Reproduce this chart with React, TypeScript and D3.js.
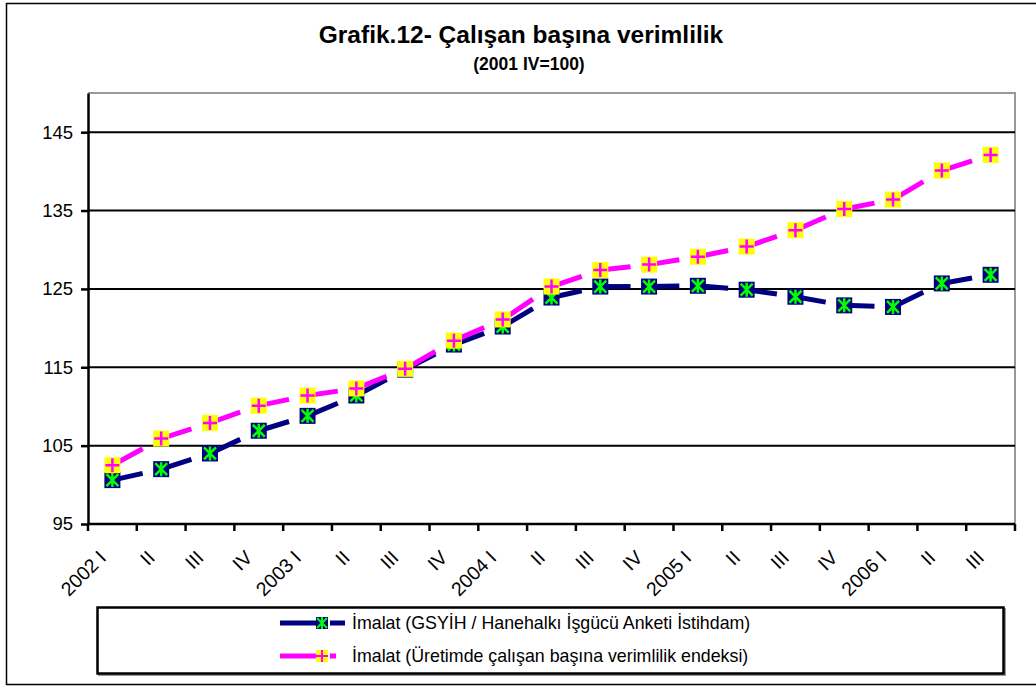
// @ts-nocheck
import React, { useEffect, useRef } from "react";
import * as d3 from "d3";

const quarters = [
  "2002 I", "II", "III", "IV",
  "2003 I", "II", "III", "IV",
  "2004 I", "II", "III", "IV",
  "2005 I", "II", "III", "IV",
  "2006 I", "II", "III",
];

const gsyih = [
  100.6, 102.0, 104.0, 106.9, 108.8, 111.4, 114.7, 117.9, 120.2, 123.9,
  125.3, 125.3, 125.4, 124.9, 124.0, 122.9, 122.7, 125.7, 126.8,
];

const uretim = [
  102.5, 105.9, 107.9, 110.1, 111.4, 112.3, 114.8, 118.4, 121.1, 125.3,
  127.4, 128.1, 129.1, 130.4, 132.5, 135.2, 136.4, 140.1, 142.1,
];

const yTicks = [95, 105, 115, 125, 135, 145];

const seriesNames = [
  "İmalat (GSYİH / Hanehalkı İşgücü Anketi İstihdam)",
  "İmalat (Üretimde çalışan başına verimlilik endeksi)",
];

const FONT = "'Liberation Sans', Arial, sans-serif";

const App = () => {
  const svgRef = useRef();

  useEffect(() => {
    document.body.style.margin = "0";
    const W = 1036;
    const H = 686;
    const margin = { top: 93, right: 21, bottom: 162, left: 88 };
    const width = W - margin.left - margin.right;
    const height = H - margin.top - margin.bottom;

    const root = d3.select(svgRef.current);
    root.selectAll("*").remove();
    root.attr("width", W).attr("height", H).style("display", "block");

    // outer frame
    root
      .append("rect")
      .attr("x", 6.5)
      .attr("y", 3.5)
      .attr("width", W + 10)
      .attr("height", 681)
      .attr("fill", "white")
      .attr("stroke", "black")
      .attr("stroke-width", 1.5);

    // title
    root
      .append("text")
      .attr("x", 521)
      .attr("y", 43)
      .attr("text-anchor", "middle")
      .style("font-family", FONT)
      .style("font-weight", "bold")
      .style("font-size", "24.5px")
      .text("Grafik.12- Çalışan başına verimlilik");
    root
      .append("text")
      .attr("x", 529)
      .attr("y", 70)
      .attr("text-anchor", "middle")
      .style("font-family", FONT)
      .style("font-weight", "bold")
      .style("font-size", "17.5px")
      .text("(2001 IV=100)");

    const svg = root
      .append("g")
      .attr("transform", `translate(${margin.left},${margin.top})`);

    const x = d3
      .scaleBand()
      .domain(d3.range(quarters.length))
      .range([0, width]);
    const y = d3.scaleLinear().domain([95, 150]).range([height, 0]);

    // plot border (gray top/right)
    svg
      .append("path")
      .attr("d", `M0,0H${width}V${height}`)
      .attr("fill", "none")
      .attr("stroke", "#999")
      .attr("stroke-width", 2);

    // gridlines
    svg
      .selectAll(".grid")
      .data(yTicks.slice(1))
      .enter()
      .append("line")
      .attr("x1", 0)
      .attr("x2", width)
      .attr("y1", (d) => y(d))
      .attr("y2", (d) => y(d))
      .attr("stroke", "black")
      .attr("stroke-width", 2);

    // y axis
    const yAxis = svg
      .append("g")
      .call(d3.axisLeft(y).tickValues(yTicks).tickSize(7).tickSizeOuter(0));
    yAxis.select(".domain").attr("stroke-width", 2.5);
    yAxis.selectAll(".tick line").attr("stroke-width", 2.5);
    yAxis
      .selectAll("text")
      .attr("x", -15)
      .style("font-family", FONT)
      .style("font-size", "18.5px")
      .attr("fill", "black");

    // x axis
    const xAxis = svg
      .append("g")
      .attr("transform", `translate(0,${height})`);
    xAxis
      .append("line")
      .attr("x1", 0)
      .attr("x2", width)
      .attr("stroke", "black")
      .attr("stroke-width", 2.5);
    xAxis
      .selectAll(".xt")
      .data(d3.range(quarters.length + 1))
      .enter()
      .append("line")
      .attr("x1", (i) => i * x.step())
      .attr("x2", (i) => i * x.step())
      .attr("y1", 0)
      .attr("y2", 7)
      .attr("stroke", "black")
      .attr("stroke-width", 2.5);
    xAxis
      .selectAll(".xl")
      .data(quarters)
      .enter()
      .append("text")
      .attr(
        "transform",
        (d, i) =>
          `translate(${x(i) + x.bandwidth() / 2 - 10},${30}) rotate(-45)`
      )
      .attr("text-anchor", "end")
      .attr("dy", "0.35em")
      .style("font-family", FONT)
      .style("font-size", "19.5px")
      .text((d) => d);

    const series = [
      { values: gsyih, line: "#000080", fill: "#000080", mark: "#00ff00", kind: "star" },
      { values: uretim, line: "#ff00ff", fill: "#ffff00", mark: "#ff00ff", kind: "plus" },
    ];

    const cx = (i) => x(i) + x.bandwidth() / 2;

    const drawMarker = (g, px, py, s) => {
      const r = 8;
      g.append("rect")
        .attr("x", px - r)
        .attr("y", py - r)
        .attr("width", 2 * r)
        .attr("height", 2 * r)
        .attr("fill", s.fill);
      const p = d3.path();
      if (s.kind === "star") {
        p.moveTo(px - 6, py - 6);
        p.lineTo(px + 6, py + 6);
        p.moveTo(px + 6, py - 6);
        p.lineTo(px - 6, py + 6);
        p.moveTo(px, py - 7);
        p.lineTo(px, py + 7);
      } else {
        p.moveTo(px - 7, py);
        p.lineTo(px + 7, py);
        p.moveTo(px, py - 7);
        p.lineTo(px, py + 7);
      }
      g.append("path")
        .attr("d", p.toString())
        .attr("stroke", s.mark)
        .attr("stroke-width", 2.5)
        .attr("fill", "none");
    };

    series.forEach((s) => {
      const g = svg.append("g");
      for (let i = 0; i < s.values.length - 1; i++) {
        const x1 = cx(i);
        const y1 = y(s.values[i]);
        const x2 = cx(i + 1);
        const y2 = y(s.values[i + 1]);
        const len = Math.hypot(x2 - x1, y2 - y1);
        g.append("line")
          .attr("x1", x1)
          .attr("y1", y1)
          .attr("x2", x2)
          .attr("y2", y2)
          .attr("stroke", s.line)
          .attr("stroke-width", 5)
          .attr("stroke-dasharray", `${len * 0.62} ${len}`);
      }
    });
    series.forEach((s) => {
      const g = svg.append("g");
      s.values.forEach((v, i) => drawMarker(g, cx(i), y(v), s));
    });

    // legend
    const lg = root.append("g");
    lg.append("rect")
      .attr("x", 99)
      .attr("y", 609)
      .attr("width", 906)
      .attr("height", 66)
      .attr("fill", "none")
      .attr("stroke", "#999")
      .attr("stroke-width", 2);
    lg.append("rect")
      .attr("x", 97.5)
      .attr("y", 607.5)
      .attr("width", 906)
      .attr("height", 66)
      .attr("fill", "white")
      .attr("stroke", "black")
      .attr("stroke-width", 2.5);

    series.forEach((s, k) => {
      const ly = 623 + k * 33;
      lg.append("line")
        .attr("x1", 280)
        .attr("x2", 316)
        .attr("y1", ly)
        .attr("y2", ly)
        .attr("stroke", s.line)
        .attr("stroke-width", 5);
      lg.append("line")
        .attr("x1", 330)
        .attr("x2", k === 0 ? 345 : 336)
        .attr("y1", ly)
        .attr("y2", ly)
        .attr("stroke", s.line)
        .attr("stroke-width", 5);
      const mg = lg.append("g");
      const r = 6;
      mg.append("rect")
        .attr("x", 322 - r)
        .attr("y", ly - r)
        .attr("width", 2 * r)
        .attr("height", 2 * r)
        .attr("fill", s.fill);
      const p = d3.path();
      if (s.kind === "star") {
        p.moveTo(317, ly - 5);
        p.lineTo(327, ly + 5);
        p.moveTo(327, ly - 5);
        p.lineTo(317, ly + 5);
        p.moveTo(322, ly - 6);
        p.lineTo(322, ly + 6);
      } else {
        p.moveTo(316, ly);
        p.lineTo(328, ly);
        p.moveTo(322, ly - 6);
        p.lineTo(322, ly + 6);
      }
      mg.append("path")
        .attr("d", p.toString())
        .attr("stroke", s.mark)
        .attr("stroke-width", 2)
        .attr("fill", "none");
      lg.append("text")
        .attr("x", 352)
        .attr("y", ly + 6)
        .style("font-family", FONT)
        .style("font-size", "17.8px")
        .text(seriesNames[k]);
    });
  }, []);

  return <svg ref={svgRef}></svg>;
};

export default App;
